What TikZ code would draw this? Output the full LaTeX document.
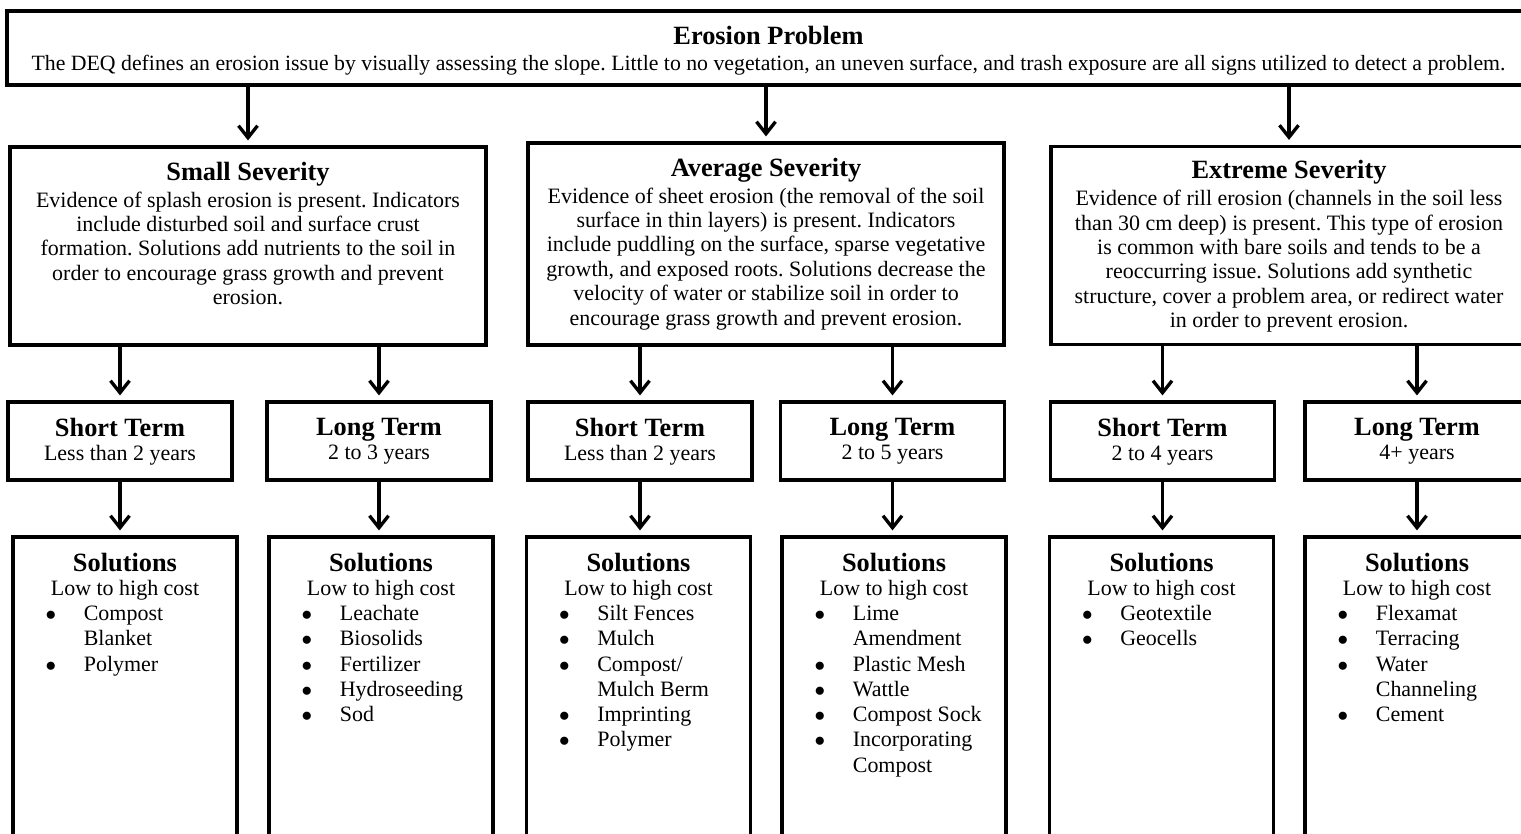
\documentclass[tikz,border=0pt]{standalone}
\usepackage{fontspec}
\setmainfont{Liberation Serif}
\usetikzlibrary{positioning,calc,arrows.meta}
\newcommand{\hd}[1]{{\fontsize{15}{17}\selectfont\bfseries #1}}
\newcommand{\bul}{\makebox[12pt][c]{$\bullet$}}

\begin{document}
\frenchspacing
\begin{tikzpicture}
  [x=0.02cm,y=-0.02cm,
  box/.style={draw=black,line width=1.8pt,inner sep=0pt},
  sevbox/.style={box,minimum width=476*0.02cm,minimum height=198*0.02cm},
  termbox/.style={box,minimum width=224*0.02cm,minimum height=78*0.02cm},
  solbox/.style={box,minimum width=224*0.02cm,minimum height=320*0.02cm},
  txt/.style={align=center,inner sep=0pt,anchor=north,font=\fontsize{12.5}{13.9}\selectfont},
  lst/.style={inner sep=0pt,anchor=north west,font=\fontsize{12.5}{14.4}\selectfont},
  flow/.style={-{Straight Barb[length=0.24cm,width=0.38cm]},line width=1.9pt,shorten >=0.1cm}]
  \clip (0,0) rectangle (1521,834);

  \node[box,minimum width=1523*0.02cm,minimum height=74*0.02cm] (problem) at (768.5,48) {};
  \node[txt,font=\fontsize{12.4}{13.9}\selectfont] (problemt) at ($(problem.north)+(0,16)$) {\hd{Erosion Problem}\\[1pt]The DEQ defines an erosion issue by visually assessing the slope. Little to no vegetation, an uneven surface, and trash exposure are all signs utilized to detect a problem.};

  \node[sevbox] (small) at (248,246) {};
  \node[sevbox,minimum height=202*0.02cm] (average) at (766,244) {};
  \node[sevbox] (extreme) at (1289,245.5) {};
  \node[txt] (smallt) at ($(small.north)+(0,16)$) {\hd{Small Severity}\\[1.5pt]Evidence of splash erosion is present. Indicators\\include disturbed soil and surface crust\\formation. Solutions add nutrients to the soil in\\order to encourage grass growth and prevent\\erosion.};
  \node[txt] (averaget) at ($(average.north)+(0,16)$) {\hd{Average Severity}\\[1.5pt]Evidence of sheet erosion (the removal of the soil\\surface in thin layers) is present. Indicators\\include puddling on the surface, sparse vegetative\\growth, and exposed roots. Solutions decrease the\\velocity of water or stabilize soil in order to\\encourage grass growth and prevent erosion.};
  \node[txt] (extremet) at ($(extreme.north)+(0,15)$) {\hd{Extreme Severity}\\[1.5pt]Evidence of rill erosion (channels in the soil less\\than 30 cm deep) is present. This type of erosion\\is common with bare soils and tends to be a\\reoccurring issue. Solutions add synthetic\\structure, cover a problem area, or redirect water\\in order to prevent erosion.};

  \node[termbox] (smallshort) at (120,441) {};
  \node[termbox] (smalllong) at (379,441) {};
  \node[termbox] (averageshort) at (640,441) {};
  \node[termbox] (averagelong) at (892.5,441) {};
  \node[termbox] (extremeshort) at (1162.5,441) {};
  \node[termbox] (extremelong) at (1417,441) {};
  \node[txt] (smallshortt) at ($(smallshort.north)+(0,17)$) {\hd{Short Term}\\Less than 2 years};
  \node[txt] (smalllongt) at ($(smalllong.north)+(0,17)$) {\hd{Long Term}\\2 to 3 years};
  \node[txt] (averageshortt) at ($(averageshort.north)+(0,17)$) {\hd{Short Term}\\Less than 2 years};
  \node[txt] (averagelongt) at ($(averagelong.north)+(0,17)$) {\hd{Long Term}\\2 to 5 years};
  \node[txt] (extremeshortt) at ($(extremeshort.north)+(0,17)$) {\hd{Short Term}\\2 to 4 years};
  \node[txt] (extremelongt) at ($(extremelong.north)+(0,17)$) {\hd{Long Term}\\4+ years};

  \node[solbox] (smallshortsol) at (125,697) {};
  \node[solbox] (smalllongsol) at (381,697) {};
  \node[solbox] (averageshortsol) at (638.5,697) {};
  \node[solbox] (averagelongsol) at (894,697) {};
  \node[solbox] (extremeshortsol) at (1161.5,697) {};
  \node[solbox] (extremelongsol) at (1417,697) {};
  \node[txt] (smallshorth) at ($(smallshortsol.north)+(0,17)$) {\hd{Solutions}\\Low to high cost};
  \node[txt] (smalllongh) at ($(smalllongsol.north)+(0,17)$) {\hd{Solutions}\\Low to high cost};
  \node[txt] (averageshorth) at ($(averageshortsol.north)+(0,17)$) {\hd{Solutions}\\Low to high cost};
  \node[txt] (averagelongh) at ($(averagelongsol.north)+(0,17)$) {\hd{Solutions}\\Low to high cost};
  \node[txt] (extremeshorth) at ($(extremeshortsol.north)+(0,17)$) {\hd{Solutions}\\Low to high cost};
  \node[txt] (extremelongh) at ($(extremelongsol.north)+(0,17)$) {\hd{Solutions}\\Low to high cost};
  \node[lst] (smallshortl) at ($(smallshortsol.north west)+(28.5,67)$) {\begin{tabular}{@{}l@{\hspace{12.8pt}}l@{}}\bul & Compost\\ & Blanket\\ \bul & Polymer\end{tabular}};
  \node[lst] (smalllongl) at ($(smalllongsol.north west)+(28.5,67)$) {\begin{tabular}{@{}l@{\hspace{12.8pt}}l@{}}\bul & Leachate\\ \bul & Biosolids\\ \bul & Fertilizer\\ \bul & Hydroseeding\\ \bul & Sod\end{tabular}};
  \node[lst] (averageshortl) at ($(averageshortsol.north west)+(28.5,67)$) {\begin{tabular}{@{}l@{\hspace{12.8pt}}l@{}}\bul & Silt Fences\\ \bul & Mulch\\ \bul & Compost/\\ & Mulch Berm\\ \bul & Imprinting\\ \bul & Polymer\end{tabular}};
  \node[lst] (averagelongl) at ($(averagelongsol.north west)+(28.5,67)$) {\begin{tabular}{@{}l@{\hspace{12.8pt}}l@{}}\bul & Lime\\ & Amendment\\ \bul & Plastic Mesh\\ \bul & Wattle\\ \bul & Compost Sock\\ \bul & Incorporating\\ & Compost\end{tabular}};
  \node[lst] (extremeshortl) at ($(extremeshortsol.north west)+(28.5,67)$) {\begin{tabular}{@{}l@{\hspace{12.8pt}}l@{}}\bul & Geotextile\\ \bul & Geocells\end{tabular}};
  \node[lst] (extremelongl) at ($(extremelongsol.north west)+(28.5,67)$) {\begin{tabular}{@{}l@{\hspace{12.8pt}}l@{}}\bul & Flexamat\\ \bul & Terracing\\ \bul & Water\\ & Channeling\\ \bul & Cement\end{tabular}};

  \draw [flow] (problem.south -| small.north) -- (small.north);
  \draw [flow] (problem.south -| average.north) -- (average.north);
  \draw [flow] (problem.south -| extreme.north) -- (extreme.north);

  \draw [flow] (small.south -| smallshort.north) -- (smallshort.north);
  \draw [flow] (small.south -| smalllong.north) -- (smalllong.north);
  \draw [flow] (average.south -| averageshort.north) -- (averageshort.north);
  \draw [flow] (average.south -| averagelong.north) -- (averagelong.north);
  \draw [flow] (extreme.south -| extremeshort.north) -- (extremeshort.north);
  \draw [flow] (extreme.south -| extremelong.north) -- (extremelong.north);

  \draw [flow] (smallshort.south) -- (smallshort.south |- smallshortsol.north);
  \draw [flow] (smalllong.south) -- (smalllong.south |- smalllongsol.north);
  \draw [flow] (averageshort.south) -- (averageshort.south |- averageshortsol.north);
  \draw [flow] (averagelong.south) -- (averagelong.south |- averagelongsol.north);
  \draw [flow] (extremeshort.south) -- (extremeshort.south |- extremeshortsol.north);
  \draw [flow] (extremelong.south) -- (extremelong.south |- extremelongsol.north);
\end{tikzpicture}
\end{document}
